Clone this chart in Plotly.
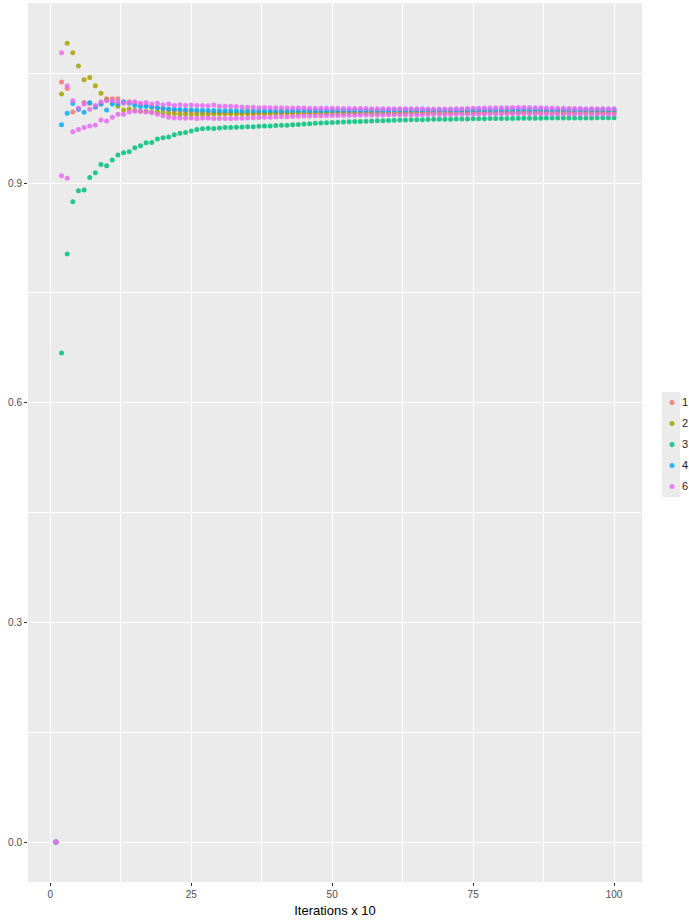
import plotly.graph_objects as go

# Iteration index (x 10)
iterations = list(range(1, 101))

series_labels = ["1", "2", "3", "4", "6"]
series_colors = ["#F8766D", "#A3A500", "#00BF7D", "#00B0F6", "#E76BF3"]

s1 = [
    0, 1.038, 1.029, 0.997, 1.001, 1.010, 1.009, 1.004, 1.008, 1.015,
    1.015, 1.015, 1.011, 1.011, 1.009, 1.008, 1.006, 1.004, 1.003, 1.001,
    1.000, 0.999, 0.999, 0.998, 0.998, 0.997, 0.997, 0.997, 0.996, 0.996,
    0.996, 0.996, 0.9958, 0.9955, 0.9955, 0.9957, 0.996, 0.996, 0.9962, 0.9963,
    0.9964, 0.9965, 0.9965, 0.9964, 0.9966, 0.9967, 0.9967, 0.9968, 0.9968, 0.9969,
    0.9969, 0.997, 0.997, 0.997, 0.9971, 0.9971, 0.997, 0.9971, 0.9972, 0.9972,
    0.9972, 0.9973, 0.9973, 0.9972, 0.9973, 0.9974, 0.9974, 0.9974, 0.9975, 0.9975,
    0.9975, 0.9976, 0.9976, 0.9976, 0.9977, 0.9977, 0.9977, 0.9978, 0.9978, 0.9979,
    0.998, 0.9981, 0.9982, 0.9982, 0.9982, 0.9981, 0.9981, 0.998, 0.998, 0.998,
    0.9979, 0.9979, 0.9979, 0.998, 0.998, 0.998, 0.998, 0.998, 0.998, 0.998,
]

s2 = [
    0, 1.0216, 1.0908, 1.078, 1.060, 1.041, 1.044, 1.033, 1.0225, 1.0137,
    1.010, 1.005, 0.9997, 1.001, 0.999, 0.998, 0.998, 0.997, 0.997, 0.996,
    0.995, 0.995, 0.994, 0.994, 0.9935, 0.9935, 0.994, 0.994, 0.9945, 0.9945,
    0.9945, 0.9946, 0.9946, 0.9947, 0.9948, 0.9948, 0.9949, 0.995, 0.995, 0.995,
    0.9951, 0.9951, 0.9952, 0.9952, 0.9952, 0.9953, 0.9953, 0.9954, 0.9954, 0.9955,
    0.9955, 0.9955, 0.9956, 0.9956, 0.9956, 0.9957, 0.9957, 0.9957, 0.9958, 0.9958,
    0.9958, 0.9958, 0.9959, 0.9959, 0.9959, 0.996, 0.996, 0.996, 0.996, 0.9961,
    0.9961, 0.9961, 0.9961, 0.9962, 0.9962, 0.9962, 0.9962, 0.9963, 0.9963, 0.9963,
    0.9964, 0.9965, 0.9965, 0.9966, 0.9966, 0.9965, 0.9965, 0.9965, 0.9964, 0.9964,
    0.9964, 0.9964, 0.9964, 0.9964, 0.9965, 0.9965, 0.9965, 0.9965, 0.9965, 0.9965,
]

s3 = [
    0, 0.668, 0.803, 0.8745, 0.8895, 0.8904, 0.9077, 0.9141, 0.9255, 0.9237,
    0.9314, 0.9383, 0.9414, 0.9428, 0.9482, 0.951, 0.955, 0.9555, 0.960, 0.962,
    0.963, 0.966, 0.968, 0.969, 0.971, 0.973, 0.974, 0.975, 0.9745, 0.9752,
    0.9758, 0.976, 0.9762, 0.9765, 0.9768, 0.977, 0.9775, 0.9778, 0.978, 0.9785,
    0.9788, 0.979, 0.9795, 0.98, 0.9805, 0.981, 0.9815, 0.982, 0.9825, 0.9828,
    0.983, 0.9835, 0.9838, 0.984, 0.9842, 0.9845, 0.9848, 0.985, 0.9852, 0.9855,
    0.9858, 0.986, 0.9862, 0.9863, 0.9865, 0.9866, 0.9868, 0.987, 0.987, 0.9872,
    0.9873, 0.9874, 0.9875, 0.9876, 0.9877, 0.9878, 0.9879, 0.988, 0.988, 0.9881,
    0.9882, 0.9883, 0.9884, 0.9885, 0.9885, 0.9886, 0.9886, 0.9887, 0.9887, 0.9888,
    0.9888, 0.9889, 0.9889, 0.989, 0.989, 0.989, 0.9891, 0.9891, 0.9892, 0.9892,
]

s4 = [
    0, 0.9797, 0.9952, 1.0087, 1.0007, 0.9966, 1.0097, 1.004, 1.0079, 0.9997,
    1.0079, 1.008, 1.0107, 1.009, 1.006, 1.0046, 1.005, 1.004, 1.003, 1.002,
    1.001, 1.001, 1.0005, 1.000, 1.000, 0.9995, 0.9995, 0.999, 0.9992, 0.9988,
    0.9987, 0.9986, 0.9986, 0.9985, 0.9986, 0.9986, 0.9987, 0.9987, 0.9988, 0.9988,
    0.9989, 0.9989, 0.999, 0.999, 0.999, 0.9991, 0.9991, 0.9992, 0.9992, 0.9992,
    0.9993, 0.9993, 0.9993, 0.9994, 0.9994, 0.9994, 0.9995, 0.9995, 0.9995, 0.9995,
    0.9996, 0.9996, 0.9996, 0.9996, 0.9997, 0.9997, 0.9997, 0.9997, 0.9998, 0.9998,
    0.9998, 0.9998, 0.9999, 0.9999, 0.9999, 1.0, 1.0, 1.0, 1.0001, 1.0001,
    1.0002, 1.0003, 1.0004, 1.0004, 1.0004, 1.0003, 1.0003, 1.0002, 1.0002, 1.0002,
    1.0001, 1.0001, 1.0001, 1.0001, 1.0001, 1.0001, 1.0, 1.0, 1.0, 1.0,
]

# Group "6" holds two runs
s6_a = [
    0, 1.078, 1.0329, 1.0125, 1.002, 1.0079, 1.0007, 1.0059, 1.0107, 1.0125,
    1.0125, 1.011, 1.009, 1.010, 1.011, 1.009, 1.010, 1.008, 1.009, 1.007,
    1.008, 1.006, 1.007, 1.006, 1.0065, 1.006, 1.006, 1.0055, 1.0065, 1.005,
    1.005, 1.0048, 1.0045, 1.004, 1.0035, 1.0035, 1.003, 1.0032, 1.003, 1.0028,
    1.0027, 1.0026, 1.0025, 1.0025, 1.0024, 1.0023, 1.0022, 1.0022, 1.0021, 1.002,
    1.002, 1.0019, 1.0018, 1.0018, 1.0017, 1.0017, 1.0016, 1.0016, 1.0016, 1.0015,
    1.0015, 1.0015, 1.0014, 1.0014, 1.0014, 1.0014, 1.0013, 1.0013, 1.0013, 1.0013,
    1.0013, 1.0014, 1.0016, 1.0018, 1.002, 1.0022, 1.0024, 1.0026, 1.0027, 1.0028,
    1.003, 1.0031, 1.0032, 1.0032, 1.0031, 1.003, 1.0028, 1.0026, 1.0024, 1.0022,
    1.002, 1.0019, 1.0018, 1.0017, 1.0016, 1.0016, 1.0015, 1.0015, 1.0015, 1.0015,
]

s6_b = [
    0, 0.910, 0.9064, 0.970, 0.9733, 0.976, 0.9779, 0.9793, 0.986, 0.9847,
    0.9897, 0.994, 0.9938, 0.997, 0.998, 0.998, 0.997, 0.996, 0.994, 0.992,
    0.990, 0.989, 0.989, 0.9885, 0.989, 0.988, 0.989, 0.989, 0.988, 0.988,
    0.988, 0.988, 0.9885, 0.9885, 0.989, 0.9892, 0.9895, 0.9898, 0.99, 0.9902,
    0.9905, 0.9907, 0.991, 0.9912, 0.9914, 0.9916, 0.9918, 0.992, 0.9921, 0.9922,
    0.9924, 0.9925, 0.9926, 0.9927, 0.9928, 0.9929, 0.993, 0.993, 0.9931, 0.9932,
    0.9932, 0.9933, 0.9933, 0.9934, 0.9934, 0.9935, 0.9935, 0.9936, 0.9936, 0.9937,
    0.9937, 0.9938, 0.9939, 0.994, 0.9941, 0.9942, 0.9943, 0.9944, 0.9945, 0.9946,
    0.9947, 0.9948, 0.9949, 0.9949, 0.9948, 0.9947, 0.9946, 0.9945, 0.9944, 0.9943,
    0.9943, 0.9942, 0.9942, 0.9942, 0.9942, 0.9941, 0.9941, 0.9941, 0.9941, 0.9941,
]

x_ticks = [0, 25, 50, 75, 100]
y_ticks = [0.0, 0.3, 0.6, 0.9]
y_tick_text = ["0.0", "0.3", "0.6", "0.9"]

W, H = 689, 920
M_L, M_R, M_T, M_B = 28, 47, 3, 38
PW = W - M_L - M_R
PH = H - M_T - M_B

# legend geometry (pixels)
LEG_TOP = 388
LEG_ROW = 21
LEG_FIRST_ROW = 402
LEG_TEXT_X = 680


def px_x(p):
    return (p - M_L) / PW


def px_y(p):
    return 1 - (p - M_T) / PH


fig = go.Figure()

traces = [
    (s1, 0),
    (s2, 1),
    (s3, 2),
    (s4, 3),
    (s6_a, 4),
    (s6_b, 4),
]
for values, idx in traces:
    fig.add_trace(go.Scatter(
        x=iterations,
        y=values,
        mode="markers",
        name=series_labels[idx],
        legendgroup=series_labels[idx],
        showlegend=False,
        marker=dict(color=series_colors[idx], size=5, opacity=0.85, line=dict(width=0)),
        hoverinfo="x+y+name",
    ))

# Legend keys (symbols only); the labels are drawn as annotations beside them
annotations = []
for i, (label, color) in enumerate(zip(series_labels, series_colors)):
    fig.add_trace(go.Scatter(
        x=[None], y=[None], mode="markers", name=" ",
        legendgroup=label, showlegend=True,
        marker=dict(color=color, size=5, opacity=0.85, line=dict(width=0)),
        hoverinfo="skip",
    ))
    annotations.append(dict(
        xref="paper", yref="paper",
        x=px_x(LEG_TEXT_X), y=px_y(LEG_FIRST_ROW + i * LEG_ROW),
        xanchor="left", yanchor="middle",
        text=label, showarrow=False,
        font=dict(size=11, color="#1a1a1a"),
    ))

fig.update_layout(
    width=W,
    height=H,
    margin=dict(l=M_L, r=M_R, t=M_T, b=M_B, pad=0, autoexpand=False),
    paper_bgcolor="white",
    plot_bgcolor="#EBEBEB",
    font=dict(family="Liberation Sans, Arial, sans-serif", size=10, color="#4D4D4D"),
    showlegend=True,
    legend=dict(
        xref="container", yref="container",
        x=652 / W, y=1 - LEG_TOP / H, xanchor="left", yanchor="top",
        bgcolor="rgba(0,0,0,0)", borderwidth=0,
        font=dict(size=11, color="#1a1a1a"),
        tracegroupgap=2, itemwidth=30,
    ),
    annotations=annotations,
    shapes=[dict(
        type="rect", xref="paper", yref="paper",
        x0=px_x(662), x1=px_x(680), y0=px_y(392), y1=px_y(497),
        fillcolor="#EBEBEB", line=dict(width=0), layer="below",
    )],
)

fig.update_xaxes(
    range=[-3.95, 104.95],
    tickvals=x_ticks,
    ticktext=[str(v) for v in x_ticks],
    showgrid=True, gridcolor="white", gridwidth=1.1,
    minor=dict(showgrid=True, gridcolor="white", gridwidth=0.5, tickvals=[12.5, 37.5, 62.5, 87.5]),
    zeroline=False, showline=False,
    ticks="outside", ticklen=3, tickwidth=1, tickcolor="#333333",
    tickfont=dict(size=10, color="#4D4D4D"),
    title=dict(text="Iterations x 10", font=dict(size=13, color="black"), standoff=6),
)
fig.update_yaxes(
    range=[-0.0546, 1.1459],
    tickvals=y_ticks,
    ticktext=y_tick_text,
    showgrid=True, gridcolor="white", gridwidth=1.1,
    minor=dict(showgrid=True, gridcolor="white", gridwidth=0.5, tickvals=[0.15, 0.45, 0.75, 1.05]),
    zeroline=False, showline=False,
    ticks="outside", ticklen=3, tickwidth=1, tickcolor="#333333",
    tickfont=dict(size=10, color="#4D4D4D"),
)

fig.write_html("out.html")
